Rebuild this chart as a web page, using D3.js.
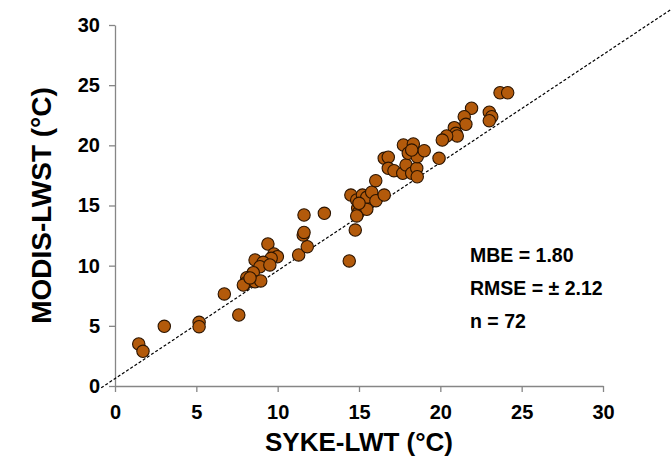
<!DOCTYPE html>
<html>
<head>
<meta charset="utf-8">
<script src="https://cdn.jsdelivr.net/npm/d3@7"></script>
<style>
  html, body { margin: 0; padding: 0; background: #fff; }
  svg text { font-family: "Liberation Sans", Arial, sans-serif; font-weight: bold; }
</style>
</head>
<body>
<svg id="chart" width="671" height="463"></svg>
<script>
// SYKE-LWT (°C) values
const sykeLWT = [1.46, 1.72, 3.03, 5.17, 5.17, 7.61, 6.72, 9.40, 8.61, 9.77, 9.98, 9.60, 9.11, 8.91, 9.52, 8.50, 8.10, 8.06, 7.89, 8.61, 8.96, 11.29, 11.82, 11.57, 11.62, 11.62, 12.87, 14.77, 14.40, 14.50, 14.86, 15.21, 15.48, 15.78, 16.04, 16.55, 16.03, 14.92, 14.96, 15.48, 14.86, 15.00, 16.55, 16.80, 16.80, 17.15, 17.69, 17.89, 18.24, 18.55, 18.58, 17.73, 18.34, 18.03, 18.58, 19.01, 19.92, 21.92, 21.47, 21.57, 20.86, 20.96, 21.04, 20.39, 20.12, 23.01, 23.16, 23.01, 23.67, 24.14, 18.24, 8.30];
// MODIS-LWST (°C) values
const modisLWST = [3.49, 2.88, 4.96, 5.29, 4.93, 5.90, 7.65, 11.80, 10.47, 10.97, 10.75, 10.61, 10.28, 9.91, 10.06, 9.42, 9.00, 8.58, 8.39, 8.67, 8.73, 10.89, 11.58, 12.55, 12.76, 14.21, 14.35, 12.96, 10.39, 15.87, 15.46, 15.87, 15.68, 16.10, 15.40, 15.87, 17.06, 14.77, 14.40, 14.68, 14.13, 15.18, 18.92, 19.01, 18.09, 17.89, 17.68, 18.37, 17.68, 18.09, 17.39, 20.03, 20.11, 19.34, 19.06, 19.55, 18.92, 23.08, 22.38, 21.75, 21.47, 21.00, 20.78, 20.78, 20.44, 22.75, 22.38, 22.05, 24.37, 24.37, 19.61, 8.98];
const xTicks = [0, 5, 10, 15, 20, 25, 30];
const yTicks = [0, 5, 10, 15, 20, 25, 30];
const refLine = [[-0.85, -0.15], [34.3, 31.4]];
const statsLines = ["MBE = 1.80", "RMSE = \u00B1 2.12", "n = 72"];
const xTitle = "SYKE-LWT (\u00B0C)";
const yTitle = "MODIS-LWST (\u00B0C)";

const points = sykeLWT.map((v, i) => ({x: v, y: modisLWST[i]}));

const svg = d3.select("#chart");
const x = d3.scaleLinear().domain([0, 30]).range([115, 603]);
const y = d3.scaleLinear().domain([0, 30]).range([386, 25]);
const axisColor = "#868686";

// x axis
const gx = svg.append("g").attr("transform", `translate(0,${y(0)})`)
  .call(d3.axisBottom(x).tickValues(xTicks).tickSize(6).tickSizeOuter(0).tickPadding(13));
gx.select(".domain").attr("stroke", axisColor).attr("stroke-width", 1.3);
gx.selectAll(".tick line").attr("stroke", axisColor).attr("stroke-width", 1.3);
gx.selectAll(".tick text").attr("fill", "#000").style("font-size", "20px");

// y axis
const gy = svg.append("g").attr("transform", `translate(${x(0)},0)`)
  .call(d3.axisLeft(y).tickValues(yTicks).tickSize(6).tickSizeOuter(0).tickPadding(9));
gy.select(".domain").attr("stroke", axisColor).attr("stroke-width", 1.3);
gy.selectAll(".tick line").attr("stroke", axisColor).attr("stroke-width", 1.3);
gy.selectAll(".tick text").attr("fill", "#000").style("font-size", "20px");

// 1:1 reference line
svg.append("path")
  .datum(refLine)
  .attr("d", d3.line().x(d => x(d[0])).y(d => y(d[1])))
  .attr("stroke", "#000").attr("stroke-width", 1.2)
  .attr("stroke-dasharray", "3,2").attr("fill", "none");

// points
svg.append("g").selectAll("circle").data(points).join("circle")
  .attr("cx", d => x(d.x)).attr("cy", d => y(d.y)).attr("r", 6.2)
  .attr("fill", "#b35a0b").attr("stroke", "#2b1400").attr("stroke-width", 1.1);

// stats
svg.append("g").selectAll("text").data(statsLines).join("text")
  .attr("x", 470).attr("y", (d, i) => 262 + i * 33)
  .style("font-size", "19.5px").attr("fill", "#000")
  .text(d => d);

// axis titles
svg.append("text").attr("x", (x(0) + x(30)) / 2).attr("y", 451)
  .attr("text-anchor", "middle").style("font-size", "26px").text(xTitle);
svg.append("text").attr("transform", `translate(51,${(y(0) + y(30)) / 2}) rotate(-90)`)
  .attr("text-anchor", "middle").style("font-size", "28px").text(yTitle);
</script>
</body>
</html>
